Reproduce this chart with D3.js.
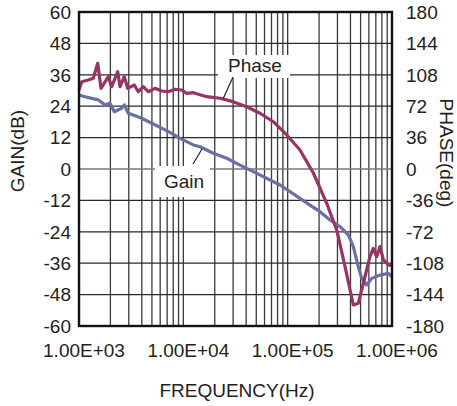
<!DOCTYPE html>
<html><head><meta charset="utf-8">
<script src="https://cdn.jsdelivr.net/npm/d3@7"></script>
<style>html,body{margin:0;padding:0;background:#fff;}svg{display:block;font-family:"Liberation Sans",Arial,sans-serif;}</style>
</head><body>
<svg id="c" width="457" height="406"></svg>
<script>
// ---- data ----
const gainTicks = [-60,-48,-36,-24,-12,0,12,24,36,48,60];
const phaseTicks = [-180,-144,-108,-72,-36,0,36,72,108,144,180];
const freqTicks = [1e3,1e4,1e5,1e6];
const freqTickLabels = ["1.00E+03","1.00E+04","1.00E+05","1.00E+06"];

const phaseFreq = [1000,1062,1228,1371,1511,1625,1910,2057,2350,2472,2717,2930,3390,3700,4132,4615,5349,6204,7178,8318,9640,10770,12470,16750,22450,29920,40480,54300,72800,97900,131300,176200,236600,295100,354800,425700,475400,531000,615000,662000,713000,767000,826000,922000,1000000];
const phaseDeg  = [90.6,100.1,102,104,121.2,92.5,105.8,94.4,111.6,94.4,105.8,92.5,96.3,88.6,94.4,88.6,92.5,89.4,88.6,91.4,90.6,86.8,87.5,82.9,81.1,77.2,71.4,63.9,54.2,39,21.8,-4.6,-39.3,-69.9,-112,-155.9,-154,-131,-100.5,-91,-100.5,-89,-104,-110,-111];

const gainFreq = [1000,1142,1324,1531,1775,1982,2179,2565,2717,2969,3313,3990,4973,6204,7740,9290,12470,14450,19380,26060,34910,46880,84500,131300,163700,204200,254700,317600,381400,425700,475400,512400,572300,639200,767000,922000,1000000];
const gainDb   = [28.3,27.6,27,26.4,24.5,25.1,21.9,23.2,24.5,21.3,20.6,19.4,17.5,15.6,13.6,11.7,9.2,8.5,6.0,4.1,1.5,-1.0,-6.1,-11.2,-13.8,-16.3,-19.5,-22,-25.2,-29.7,-37.3,-41.8,-44.3,-41.8,-40.5,-39.9,-41.2];

// ---- chart ----
const svg = d3.select("#c");
const L=79,R=392,T=12,B=326;
const x = d3.scaleLog().domain([1e3,1e6]).range([L,R]);
const yG = d3.scaleLinear().domain([-60,60]).range([B,T]);
const yP = d3.scaleLinear().domain([-180,180]).range([B,T]);
const FS = 19;

// minor grid frequencies
const gridF = [];
for (let k=3;k<6;k++) for (let m=1;m<10;m++) gridF.push(m*Math.pow(10,k));
const g = svg.append("g");
g.selectAll("line.v").data(gridF.slice(1)).enter().append("line")
  .attr("x1",d=>x(d)).attr("x2",d=>x(d)).attr("y1",T).attr("y2",B)
  .attr("stroke","#3a3a3a").attr("stroke-width",1.3);
g.selectAll("line.h").data(gainTicks.filter(d=>d>-60&&d<60)).enter().append("line")
  .attr("x1",L).attr("x2",R).attr("y1",d=>yG(d)).attr("y2",d=>yG(d))
  .attr("stroke",d=>d===0?"#777":"#2a2a2a").attr("stroke-width",d=>d===0?1.6:1.3);

// label backgrounds
svg.append("rect").attr("x",218).attr("y",55).attr("width",72).attr("height",23).attr("fill","#fff");
svg.append("rect").attr("x",155).attr("y",166).attr("width",55).attr("height",31).attr("fill","#fff");

// curves
const lineP = d3.line().x((d,i)=>x(phaseFreq[i])).y(d=>yP(d));
const lineG = d3.line().x((d,i)=>x(gainFreq[i])).y(d=>yG(d));
svg.append("path").attr("d",lineG(gainDb)).attr("fill","none").attr("stroke","#6a70a6").attr("stroke-width",3.2).attr("stroke-linejoin","round");
svg.append("path").attr("d",lineP(phaseDeg)).attr("fill","none").attr("stroke","#993366").attr("stroke-width",3.2).attr("stroke-linejoin","round");

// border
svg.append("rect").attr("x",L).attr("y",T).attr("width",R-L).attr("height",B-T)
  .attr("fill","none").attr("stroke","#111").attr("stroke-width",2.4);

// labels on curves
svg.append("text").attr("x",228).attr("y",72).attr("font-size",FS).attr("fill","#222").text("Phase");
svg.append("line").attr("x1",233).attr("y1",77).attr("x2",223).attr("y2",99).attr("stroke","#222").attr("stroke-width",1.2);
svg.append("text").attr("x",164).attr("y",188).attr("font-size",FS).attr("fill","#222").text("Gain");
svg.append("line").attr("x1",193).attr("y1",164).attr("x2",202).attr("y2",149).attr("stroke","#222").attr("stroke-width",1.2);

// tick labels
svg.selectAll("text.gl").data(gainTicks).enter().append("text")
  .attr("x",71).attr("y",d=>yG(d)).attr("dy","0.36em").attr("text-anchor","end")
  .attr("font-size",FS).attr("fill","#222").text(d=>d);
svg.selectAll("text.pl").data(phaseTicks).enter().append("text")
  .attr("x",406).attr("y",d=>yP(d)).attr("dy","0.36em").attr("text-anchor","start")
  .attr("font-size",FS).attr("fill","#222").text(d=>d);
svg.selectAll("text.fl").data(freqTicks).enter().append("text")
  .attr("x",d=>x(d)+5).attr("y",357).attr("text-anchor","middle")
  .attr("font-size",FS).attr("fill","#222").text((d,i)=>freqTickLabels[i]);

// axis titles
svg.append("text").attr("transform","translate(24,151) rotate(-90)").attr("text-anchor","middle")
  .attr("font-size",FS).attr("fill","#222").text("GAIN(dB)");
svg.append("text").attr("transform","translate(440,153) rotate(90)").attr("text-anchor","middle")
  .attr("font-size",FS).attr("fill","#222").text("PHASE(deg)");
svg.append("text").attr("x",237).attr("y",397).attr("text-anchor","middle")
  .attr("font-size",FS).attr("fill","#222").text("FREQUENCY(Hz)");
</script>
</body></html>
